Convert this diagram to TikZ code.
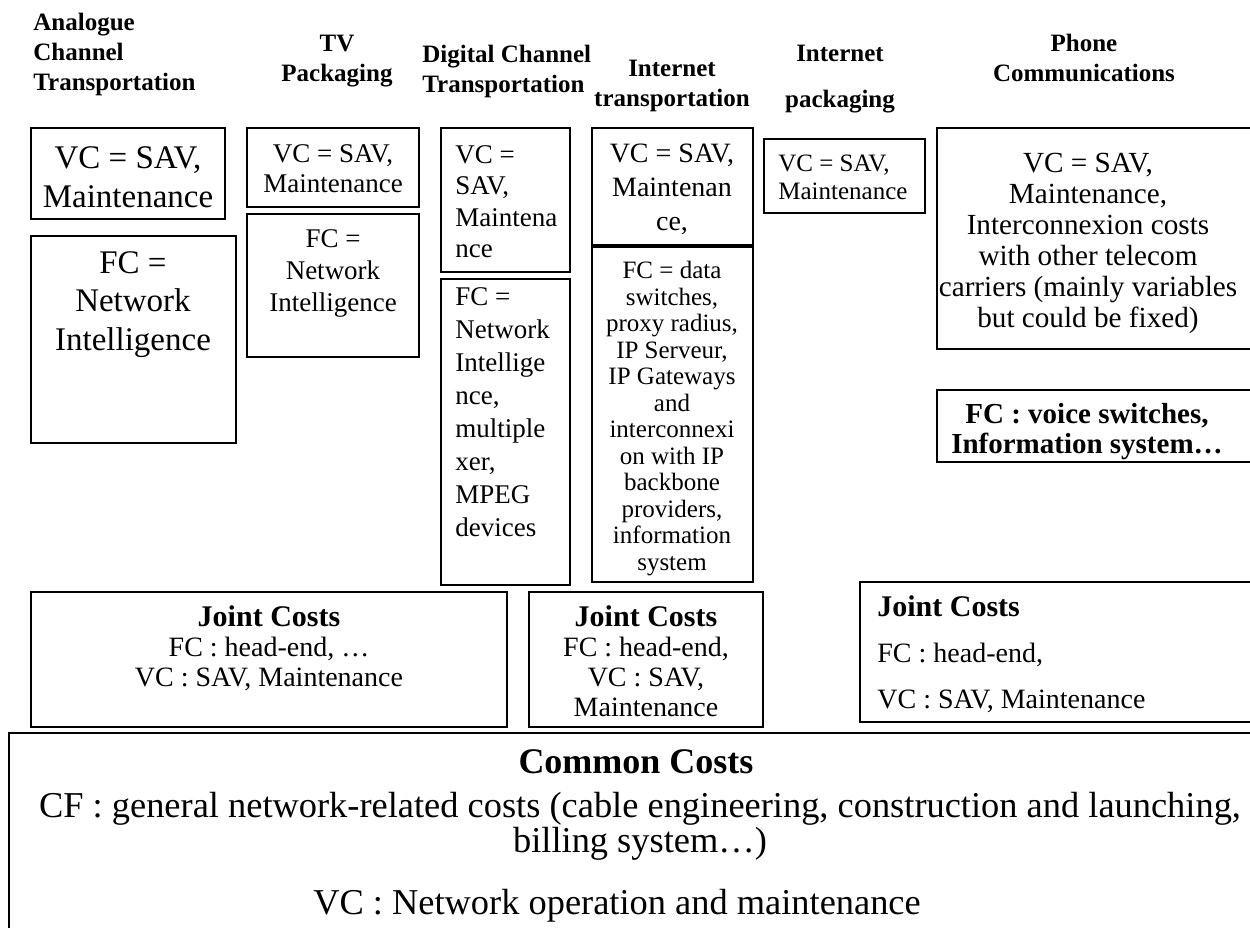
\documentclass[tikz,border=0pt]{standalone}
\usepackage{fontspec}
\setmainfont{Liberation Serif}
\usetikzlibrary{fit}

\begin{document}
\begin{tikzpicture}
        [x=0.5pt, y=-0.5pt,
        box/.style={draw, line width=0.6pt, inner sep=0pt, outer sep=0pt},
        hdr/.style={font=\bfseries\fontsize{12.5}{15}\selectfont, inner sep=0pt},
        txt/.style={inner sep=0pt, align=center}]
        \useasboundingbox (0,0) rectangle (1250,928);
        \clip (0,0) rectangle (1250,928);

        % column titles
        \node[hdr, anchor=north west, align=left] (hAna) at (33,13) {Analogue\\Channel\\Transportation};
        \node[hdr, anchor=north, align=center] (hTv) at (337,35) {TV\\Packaging};
        \node[hdr, anchor=north west, align=left] (hDig) at (422,45) {Digital Channel\\Transportation};
        \node[hdr, anchor=north, align=center] (hItr) at (672,60) {Internet\\transportation};
        \node[hdr, anchor=north, align=center] (hIpk) at (840,45) {Internet\\[8pt]packaging};
        \node[hdr, anchor=north, align=center] (hPh) at (1084,34) {Phone\\Communications};

        % boxes
        \node[box, fit={(31,128) (225,219)}] (anaVC) {};
        \node[box, fit={(31,236) (236,443)}] (anaFC) {};
        \node[box, fit={(247,128) (419,207)}] (tvVC) {};
        \node[box, fit={(247,214) (419,357)}] (tvFC) {};
        \node[box, fit={(441,128) (570,272)}] (digVC) {};
        \node[box, fit={(441,279) (570,585)}] (digFC) {};
        \node[box, fit={(592,128) (753,245)}] (itrVC) {};
        \node[box, fit={(592,247) (753,582)}] (itrFC) {};
        \node[box, fit={(764,139) (925,213)}] (ipkVC) {};
        \node[box, fit={(937,128) (1262,349)}] (phVC) {};
        \node[box, fit={(937,390) (1262,462)}] (phFC) {};
        \node[box, fit={(31,592) (507,727)}] (joint1) {};
        \node[box, fit={(529,592) (763,727)}] (joint2) {};
        \node[box, fit={(860,582) (1262,722)}] (joint3) {};
        \node[box, fit={(9,733) (1262,940)}] (common) {};

        % box texts
        \node[txt, anchor=north, font=\fontsize{16.5}{19.5}\selectfont] (anaVCt) at (128,146) {VC = SAV,\\Maintenance};
        \node[txt, anchor=north, font=\fontsize{16.5}{19.25}\selectfont] (anaFCt) at (133,251) {FC =\\Network\\Intelligence};
        \node[txt, anchor=north, font=\fontsize{13.5}{15}\selectfont] (tvVCt) at (333,144) {VC = SAV,\\Maintenance};
        \node[txt, anchor=north, font=\fontsize{13.5}{16}\selectfont] (tvFCt) at (333,229) {FC =\\Network\\Intelligence};
        \node[txt, anchor=north west, align=left, font=\fontsize{13.5}{15.75}\selectfont] (digVCt) at (455,145) {VC =\\SAV,\\Maintena\\nce};
        \node[txt, anchor=north west, align=left, font=\fontsize{13.5}{16.5}\selectfont] (digFCt) at (455,287) {FC =\\Network\\Intellige\\nce,\\multiple\\xer,\\MPEG\\devices};
        \node[txt, anchor=north, font=\fontsize{14}{17}\selectfont] (itrVCt) at (672,144) {VC = SAV,\\Maintenan\\ce,};
        \node[txt, anchor=north, font=\fontsize{12.5}{13.25}\selectfont] (itrFCt) at (672,261) {FC = data\\switches,\\proxy radius,\\IP Serveur,\\IP Gateways\\and\\interconnexi\\on with IP\\backbone\\providers,\\information\\system};
        \node[txt, anchor=north west, align=left, font=\fontsize{12.5}{14}\selectfont] (ipkVCt) at (778,155) {VC = SAV,\\Maintenance};
        \node[txt, anchor=north, font=\fontsize{14.6}{15.5}\selectfont] (phVCt) at (1088,153) {VC = SAV,\\Maintenance,\\Interconnexion costs\\with other telecom\\carriers (mainly variables\\but could be fixed)};
        \node[txt, anchor=north, font=\bfseries\fontsize{14.5}{15}\selectfont] (phFCt) at (1087,403) {FC : voice switches,\\Information system…};

        \node[txt, anchor=north, font=\fontsize{14}{15}\selectfont] (joint1t) at (269,605) {\textbf{\fontsize{15}{15}\selectfont Joint Costs}\\FC : head-end, …\\VC : SAV, Maintenance};
        \node[txt, anchor=north, font=\fontsize{14}{15}\selectfont] (joint2t) at (646,605) {\textbf{\fontsize{15}{15}\selectfont Joint Costs}\\FC : head-end,\\VC : SAV,\\Maintenance};
        \node[txt, anchor=north west, align=left, font=\fontsize{14}{15}\selectfont] (joint3t) at (877,595) {\textbf{\fontsize{15}{15}\selectfont Joint Costs}\\[8pt]FC : head-end,\\[8pt]VC : SAV, Maintenance};

        \node[txt, anchor=base, font=\bfseries\fontsize{18}{18}\selectfont] (commonT) at (636,773) {Common Costs};
        \node[txt, anchor=north, font=\fontsize{18.2}{17.5}\selectfont] (commonCF) at (640,792) {CF : general network-related costs (cable engineering, construction and launching,\\billing system…)};
        \node[txt, anchor=base, font=\fontsize{18.2}{18}\selectfont] (commonVC) at (617,914) {VC : Network operation and maintenance};
\end{tikzpicture}
\end{document}
